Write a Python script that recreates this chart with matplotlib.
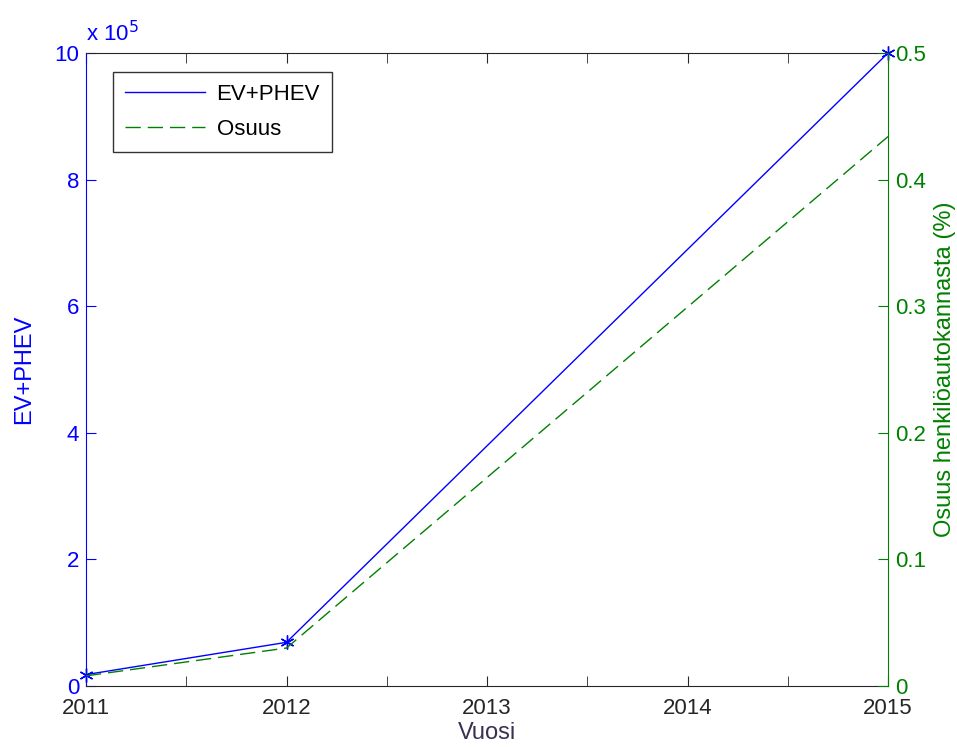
import matplotlib
matplotlib.use("Agg")
import matplotlib.pyplot as plt
from matplotlib.lines import Line2D
from matplotlib.ticker import FuncFormatter, MultipleLocator

plt.rcParams['font.family'] = ['Liberation Sans', 'DejaVu Sans']

years = [2011, 2012, 2015]
ev_phev = [18000, 69000, 1000000]
osuus = [0.008, 0.030, 0.434]

blue = (0, 0, 1)
green = (0, 0.5, 0)
fs = 16
lfs = 17

fig = plt.figure(figsize=(9.57, 7.47), dpi=100)
ax = fig.add_axes([86/957, 1-686/747, (888-86)/957, (686-53)/747])
ax2 = ax.twinx()

ax.plot(years, ev_phev, color=blue, lw=1)
ax.plot(years, ev_phev, ls='none', color=blue, marker=(6, 2, 0), ms=10, mew=1, clip_on=False, zorder=5)
ax2.plot(years, osuus, color=green, lw=1, ls=(0, (11, 5)))

ax.set_xlim(2011, 2015)
ax.set_ylim(0, 1e6)
ax2.set_ylim(0, 0.5)
ax.xaxis.set_major_locator(MultipleLocator(1))
ax.xaxis.set_minor_locator(MultipleLocator(0.5))
ax.yaxis.set_major_locator(MultipleLocator(2e5))
ax.yaxis.set_major_formatter(FuncFormatter(lambda v, p: f"{v/1e5:g}"))
ax2.yaxis.set_major_locator(MultipleLocator(0.1))
ax2.yaxis.set_major_formatter(FuncFormatter(lambda v, p: f"{v:g}"))

ax.tick_params(axis='x', which='both', direction='in', top=True, labelsize=fs, colors='#262626', length=7)
ax.tick_params(axis='x', which='major', pad=9)
ax.tick_params(axis='y', direction='in', labelsize=fs, colors=blue, length=7, pad=5)
ax2.tick_params(axis='y', direction='in', labelsize=fs, colors=green, length=7, pad=5)

for s in ['top', 'bottom']:
    ax.spines[s].set_color('#262626')
    ax2.spines[s].set_visible(False)
ax.spines['left'].set_color(blue)
ax.spines['right'].set_visible(False)
ax2.spines['left'].set_visible(False)
ax2.spines['right'].set_color(green)

ax.set_xlabel('Vuosi', fontsize=lfs, color='#3a3050', labelpad=2)
ax.set_ylabel('EV+PHEV', fontsize=lfs, color=blue, labelpad=14)
ax2.set_ylabel('Osuus henkilöautokannasta (%)', fontsize=lfs, color=green, labelpad=6)

ax.text(0.0, 1.01, r'x 10$^5$', transform=ax.transAxes, fontsize=fs, color=blue, ha='left', va='bottom')

handles = [Line2D([], [], color=blue, lw=1), Line2D([], [], color=green, lw=1, ls=(0, (11, 5)))]
leg = ax.legend(handles, ['EV+PHEV', 'Osuus'], loc='upper left', bbox_to_anchor=(0.034, 0.970),
                borderaxespad=0, fontsize=fs, frameon=True, fancybox=False, handlelength=3.6,
                borderpad=0.55, labelspacing=0.6, handletextpad=0.5)
leg.get_frame().set_edgecolor('black')
leg.get_frame().set_linewidth(1)

fig.savefig('out.png', dpi=100)
